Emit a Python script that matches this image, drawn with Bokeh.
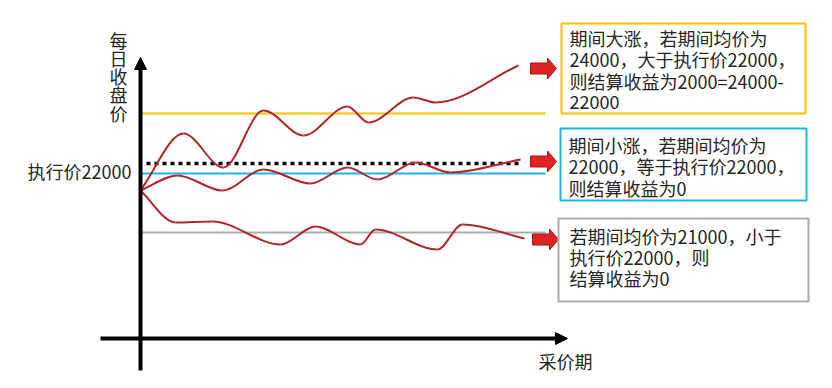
from bokeh.plotting import figure
from bokeh.models import Range1d, Arrow, NormalHead
from bokeh.core.properties import value
from bokeh.embed import file_html
from bokeh.resources import INLINE

# ---- data (schematic, in picture units) ----
# curve 1: big rise
c1x = [140, 183, 223, 263, 303, 347, 368, 413, 435, 518]
c1y = [190, 133, 167, 110, 135, 106, 122, 97, 102, 65]
# curve 2: small rise
c2x = [140, 177, 222, 263, 310, 347, 377, 415, 450, 520]
c2y = [190, 175, 190, 169, 183, 167, 179, 162, 172, 159]
# curve 3: decline
c3x = [140, 175, 212, 280, 315, 360, 375, 437, 462, 524]
c3y = [190, 222, 221, 244, 226, 244, 229, 249, 224, 238]

level_names = ["high", "strike", "mid", "low"]
level_y = [113, 163, 173, 232]

box1_lines = ["期间大涨，若期间均价为", "24000，大于执行价22000，", "则结算收益为2000=24000-", "22000"]
box2_lines = ["期间小涨，若期间均价为", "22000，等于执行价22000，", "则结算收益为0"]
box3_lines = ["若期间均价为21000，小于", "执行价22000，则", "结算收益为0"]
y_label = "每日收盘价"
x_label = "采价期"
strike_label = "执行价22000"

FONT = value("Noto Sans CJK SC")
TXT = "#262626"
RED = "#B0262A"

p = figure(width=816, height=372, output_backend="svg", toolbar_location=None,
           x_range=Range1d(0, 816), y_range=Range1d(372, 0), min_border=0)
p.axis.visible = False
p.grid.visible = False
p.outline_line_color = None
p.background_fill_color = "white"


def bezier_parts(xs, ys):
    n = len(xs)
    m = []
    for i in range(n):
        if i == 0:
            m.append((ys[1] - ys[0]) / (xs[1] - xs[0]))
        elif i == n - 1:
            m.append((ys[-1] - ys[-2]) / (xs[-1] - xs[-2]))
        else:
            d1 = ys[i] - ys[i - 1]
            d2 = ys[i + 1] - ys[i]
            if d1 * d2 <= 0:
                m.append(0.0)
            else:
                m.append((ys[i + 1] - ys[i - 1]) / (xs[i + 1] - xs[i - 1]))
    x0, y0, x1, y1, cx0, cy0, cx1, cy1 = [], [], [], [], [], [], [], []
    for i in range(n - 1):
        dx = xs[i + 1] - xs[i]
        x0.append(xs[i]); y0.append(ys[i])
        x1.append(xs[i + 1]); y1.append(ys[i + 1])
        cx0.append(xs[i] + dx / 3); cy0.append(ys[i] + m[i] * dx / 3)
        cx1.append(xs[i + 1] - dx / 3); cy1.append(ys[i + 1] - m[i + 1] * dx / 3)
    return dict(x0=x0, y0=y0, x1=x1, y1=y1, cx0=cx0, cy0=cy0, cx1=cx1, cy1=cy1)


# reference lines
p.segment(x0=140, x1=545, y0=level_y[0], y1=level_y[0], line_color="#FFC000", line_width=2)
p.segment(x0=140, x1=545, y0=level_y[2], y1=level_y[2], line_color="#1FB5EC", line_width=2)
p.segment(x0=140, x1=545, y0=level_y[3], y1=level_y[3], line_color="#ABABAB", line_width=2)
p.segment(x0=146, x1=522, y0=level_y[1], y1=level_y[1], line_color="black", line_width=3.5,
          line_dash="4 4")

# curves
for xs, ys in [(c1x, c1y), (c2x, c2y), (c3x, c3y)]:
    b = bezier_parts(xs, ys)
    p.bezier(**b, line_color=RED, line_width=2)

# axes
p.add_layout(Arrow(x_start=140, y_start=370, x_end=140, y_end=57, line_width=4, line_color="black",
                   end=NormalHead(size=12, fill_color="black", line_color="black", line_width=1)))
p.add_layout(Arrow(x_start=100, y_start=338, x_end=567, y_end=338, line_width=4, line_color="black",
                   end=NormalHead(size=12, fill_color="black", line_color="black", line_width=1)))

# block arrows
arrow_cx = [543, 543, 545]
arrow_cy = [68, 161, 239]
axs, ays = [], []
for cx, cy in zip(arrow_cx, arrow_cy):
    axs.append([cx - 13, cx + 4, cx + 4, cx + 13, cx + 4, cx + 4, cx - 13])
    ays.append([cy - 5.5, cy - 5.5, cy - 10.5, cy, cy + 10.5, cy + 5.5, cy + 5.5])
p.patches(axs, ays, fill_color="#E02424", line_color="#A01818", line_width=1)

# boxes
p.quad(left=561, right=805, top=23, bottom=113, fill_color="white", line_color="#FFC000", line_width=2)
p.quad(left=560, right=806, top=128, bottom=200, fill_color="white", line_color="#1FB5EC", line_width=2)
p.quad(left=558, right=808, top=218, bottom=301, fill_color="white", line_color="#ABABAB", line_width=2)

FS = "18px"
p.text(x=[569] * 4, y=[37, 58.5, 80, 101.7], text=box1_lines, text_font=FONT, text_font_size=FS,
       text_color=TXT, text_baseline="middle", text_align="left")
p.text(x=[568] * 3, y=[144, 165.7, 187.3], text=box2_lines, text_font=FONT, text_font_size=FS,
       text_color=TXT, text_baseline="middle", text_align="left")
p.text(x=[569] * 3, y=[235, 256.7, 277.7], text=box3_lines, text_font=FONT, text_font_size=FS,
       text_color=TXT, text_baseline="middle", text_align="left")

# labels
p.text(x=[118] * len(y_label), y=[39 + 18.3 * i for i in range(len(y_label))], text=list(y_label),
       text_font=FONT, text_font_size=FS, text_color=TXT, text_baseline="middle", text_align="center")
p.text(x=[131], y=[170], text=[strike_label], text_font=FONT, text_font_size=FS, text_color=TXT,
       text_baseline="middle", text_align="right")
p.text(x=[538], y=[360], text=[x_label], text_font=FONT, text_font_size=FS, text_color=TXT,
       text_baseline="middle", text_align="left")

open("out.html", "w").write(file_html(p, INLINE))
